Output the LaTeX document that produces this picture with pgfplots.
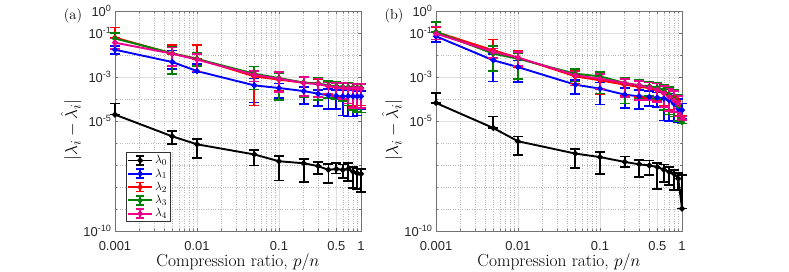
\documentclass[border=0pt]{standalone}
\usepackage{fontspec}
\usepackage{pgfplots}
\usepackage{pgfplotstable}
\pgfplotsset{compat=1.18}
\newfontfamily\tickfont{Liberation Sans}
\definecolor{mgreen}{rgb}{0,0.5,0}

\pgfplotstableread{
x y top bot
0.001 1.95e-5 6.17e-5 1.95e-5
0.005 2.00e-6 3.55e-6 8.71e-7
0.01 8.71e-7 1.51e-6 2.14e-7
0.05 3.02e-7 4.68e-7 9.55e-8
0.1 1.48e-7 2.57e-7 2.00e-8
0.2 1.20e-7 1.91e-7 1.66e-8
0.3 8.91e-8 1.41e-7 3.98e-8
0.4 6.03e-8 1.12e-7 1.48e-8
0.5 6.61e-8 1.20e-7 4.07e-8
0.6 6.03e-8 1.05e-7 2.63e-8
0.7 6.61e-8 1.20e-7 1.82e-8
0.8 5.01e-8 8.32e-8 9.12e-9
0.9 4.17e-8 6.92e-8 7.94e-9
1.0 3.98e-8 6.76e-8 5.89e-9
}\aBlack
\pgfplotstableread{
x y top bot
0.001 1.74e-2 2.51e-2 1.12e-2
0.005 4.79e-3 1.58e-2 2.24e-3
0.01 1.86e-3 3.98e-3 1.66e-3
0.05 4.17e-4 8.51e-4 6.92e-5
0.1 3.16e-4 5.01e-4 1.12e-4
0.2 2.29e-4 3.55e-4 6.03e-5
0.3 1.74e-4 2.51e-4 4.68e-5
0.4 1.48e-4 2.82e-4 3.63e-5
0.5 1.38e-4 2.51e-4 3.55e-5
0.6 1.32e-4 2.51e-4 1.78e-5
0.7 1.35e-4 2.51e-4 1.58e-5
0.8 1.32e-4 2.40e-4 1.58e-5
0.9 1.32e-4 2.24e-4 1.78e-5
1.0 1.32e-4 2.24e-4 3.55e-5
}\aBlue
\pgfplotstableread{
x y top bot
0.001 6.17e-2 1.78e-1 6.17e-2
0.005 1.15e-2 2.75e-2 1.15e-2
0.01 6.76e-3 2.95e-2 6.76e-3
0.05 1.07e-3 2.00e-3 5.01e-5
0.1 7.59e-4 1.58e-3 2.24e-4
0.2 5.50e-4 9.55e-4 1.41e-4
0.3 5.01e-4 8.32e-4 1.26e-4
0.4 3.98e-4 6.03e-4 1.58e-4
0.5 3.55e-4 5.62e-4 1.26e-4
0.6 3.31e-4 5.37e-4 1.00e-4
0.7 3.16e-4 5.25e-4 6.31e-5
0.8 3.16e-4 5.01e-4 4.47e-5
0.9 3.16e-4 5.01e-4 5.01e-5
1.0 3.02e-4 4.79e-4 5.01e-5
}\aRed
\pgfplotstableread{
x y top bot
0.001 5.62e-2 1.00e-1 2.00e-2
0.005 1.20e-2 2.24e-2 1.35e-3
0.01 6.61e-3 1.26e-2 3.16e-3
0.05 1.41e-3 3.02e-3 2.69e-4
0.1 8.91e-4 1.51e-3 8.71e-5
0.2 5.62e-4 1.05e-3 1.20e-4
0.3 5.01e-4 8.71e-4 8.71e-5
0.4 4.17e-4 6.61e-4 1.12e-4
0.5 3.80e-4 6.31e-4 1.00e-4
0.6 3.55e-4 5.62e-4 7.94e-5
0.7 3.47e-4 5.37e-4 5.01e-5
0.8 3.39e-4 5.01e-4 3.16e-5
0.9 3.31e-4 5.01e-4 2.51e-5
1.0 3.31e-4 5.01e-4 2.40e-5
}\aGreen
\pgfplotstableread{
x y top bot
0.001 3.63e-2 5.62e-2 1.91e-2
0.005 1.15e-2 2.19e-2 3.16e-3
0.01 6.17e-3 1.12e-2 1.78e-3
0.05 1.26e-3 1.91e-3 6.31e-4
0.1 8.32e-4 1.66e-3 2.09e-4
0.2 5.37e-4 1.00e-3 1.41e-4
0.3 4.79e-4 8.51e-4 1.26e-4
0.4 3.80e-4 5.62e-4 1.78e-4
0.5 3.39e-4 5.37e-4 1.41e-4
0.6 3.16e-4 5.25e-4 1.00e-4
0.7 3.02e-4 5.01e-4 6.31e-5
0.8 3.02e-4 5.01e-4 3.98e-5
0.9 2.95e-4 4.79e-4 3.98e-5
1.0 2.95e-4 4.68e-4 3.98e-5
}\aMag

\pgfplotstableread{
x y top bot
0.001 6.61e-5 1.86e-4 6.61e-5
0.005 4.79e-6 1.62e-5 4.79e-6
0.01 1.20e-6 2.00e-6 2.75e-7
0.05 3.31e-7 5.50e-7 7.24e-8
0.1 2.29e-7 3.89e-7 3.80e-8
0.2 1.38e-7 2.45e-7 8.13e-8
0.3 1.07e-7 1.74e-7 2.82e-8
0.4 9.55e-8 1.62e-7 3.39e-8
0.5 8.13e-8 1.23e-7 8.32e-9
0.6 6.17e-8 1.05e-7 1.70e-8
0.7 4.79e-8 8.13e-8 1.20e-8
0.8 4.07e-8 5.75e-8 7.08e-9
0.9 2.40e-8 4.37e-8 7.08e-9
1.0 1.05e-9 3.55e-8 1.05e-9
}\bBlack
\pgfplotstableread{
x y top bot
0.001 7.08e-2 1.12e-1 3.98e-2
0.005 5.75e-3 1.12e-2 6.31e-4
0.01 2.82e-3 5.62e-3 5.75e-4
0.05 4.47e-4 7.08e-4 1.70e-4
0.1 2.95e-4 5.62e-4 5.62e-5
0.2 1.58e-4 3.16e-4 3.98e-5
0.3 1.32e-4 2.51e-4 3.39e-5
0.4 1.23e-4 2.24e-4 4.68e-5
0.5 1.15e-4 2.00e-4 4.47e-5
0.6 1.05e-4 2.00e-4 1.07e-5
0.7 8.71e-5 1.78e-4 1.00e-5
0.8 6.17e-5 1.41e-4 1.00e-5
0.9 3.55e-5 1.00e-4 8.91e-6
1.0 3.16e-5 6.31e-5 1.26e-5
}\bBlue
\pgfplotstableread{
x y top bot
0.001 1.12e-1 1.91e-1 5.01e-2
0.005 1.62e-2 5.01e-2 1.62e-2
0.01 7.59e-3 1.51e-2 2.82e-3
0.05 1.07e-3 1.91e-3 5.01e-4
0.1 7.08e-4 1.51e-3 1.58e-4
0.2 4.47e-4 8.91e-4 1.41e-4
0.3 3.55e-4 7.08e-4 1.26e-4
0.4 3.16e-4 6.03e-4 1.12e-4
0.5 2.51e-4 5.01e-4 7.94e-5
0.6 1.91e-4 3.98e-4 5.01e-5
0.7 1.41e-4 3.16e-4 3.16e-5
0.8 1.12e-4 2.51e-4 2.51e-5
0.9 7.94e-5 1.58e-4 1.78e-5
1.0 1.41e-5 1.78e-5 1.12e-5
}\bRed
\pgfplotstableread{
x y top bot
0.001 1.12e-1 3.16e-1 1.12e-1
0.005 1.15e-2 2.51e-2 1.86e-3
0.01 6.76e-3 1.26e-2 8.32e-4
0.05 1.41e-3 2.24e-3 6.31e-4
0.1 1.07e-3 1.70e-3 1.78e-4
0.2 5.37e-4 9.33e-4 6.31e-5
0.3 4.17e-4 7.59e-4 1.00e-4
0.4 3.80e-4 6.31e-4 1.41e-4
0.5 3.31e-4 5.62e-4 1.00e-4
0.6 2.63e-4 4.47e-4 3.16e-5
0.7 1.58e-4 3.55e-4 2.00e-5
0.8 1.00e-4 2.63e-4 1.58e-5
0.9 5.01e-5 1.58e-4 1.00e-5
1.0 8.91e-6 1.12e-5 7.59e-6
}\bGreen
\pgfplotstableread{
x y top bot
0.001 9.33e-2 2.00e-1 5.01e-2
0.005 1.38e-2 2.00e-2 7.08e-3
0.01 7.59e-3 1.41e-2 3.16e-3
0.05 1.20e-3 1.78e-3 4.17e-4
0.1 8.32e-4 1.41e-3 2.82e-4
0.2 5.37e-4 8.32e-4 1.26e-4
0.3 4.17e-4 6.76e-4 8.71e-5
0.4 3.31e-4 5.62e-4 8.91e-5
0.5 2.63e-4 5.01e-4 7.08e-5
0.6 1.86e-4 3.80e-4 4.47e-5
0.7 1.23e-4 2.82e-4 2.82e-5
0.8 8.71e-5 2.24e-4 2.51e-5
0.9 6.17e-5 1.41e-4 1.58e-5
1.0 1.35e-5 1.58e-5 1.12e-5
}\bMag

\pgfplotsset{legend image code/.code={
      \draw[#1, mark=none] (0bp,0bp) -- (24bp,0bp);
      \draw[#1, mark=none] (12bp,-4.5bp) -- (12bp,4.5bp);
      \draw[#1, mark=none] (8bp,4.5bp) -- (16bp,4.5bp);
      \draw[#1, mark=none] (8bp,-4.5bp) -- (16bp,-4.5bp);
      \fill[#1, mark=none] (12bp,0bp) circle (1.8bp);
  }}
\pgfplotsset{
  every axis/.append style={
    xmin=0.001, xmax=1, ymin=1e-10, ymax=1,
    scale only axis, width=246bp, height=220bp,
    xtick={0.001,0.01,0.1,0.5,1}, xticklabels={0.001,0.01,0.1,0.5,1},
    minor xtick={0.002,0.003,0.004,0.005,0.006,0.007,0.008,0.009,0.02,0.03,0.04,0.05,0.06,0.07,0.08,0.09,0.2,0.3,0.4,0.6,0.7,0.8,0.9},
    ytick={1e-10,1e-5,1e-3,1e-1,1},
    yticklabels={10\textsuperscript{-10},10\textsuperscript{-5},10\textsuperscript{-3},10\textsuperscript{-1},10\textsuperscript{0}},
    minor ytick={1e-9,1e-8,1e-7,1e-6,1e-4,1e-2},
    grid=both,
    major grid style={black!13, line width=0.5bp},
    minor grid style={black!28, dotted, line width=0.5bp},
    tick align=inside, major tick length=3bp, minor tick length=1.8bp,
    axis line style={black!55, line width=0.6bp},
    tick style={black!55, line width=0.6bp},
    tick label style={font=\tickfont\fontsize{13}{13}\selectfont, text=black!85},
    xticklabel style={anchor=base, yshift=-19bp},
    xlabel={Compression ratio, $p/n$},
    xlabel style={at={(axis description cs:0.5,0)}, anchor=base, yshift=-35.5bp, font=\fontsize{17.5}{17.5}\selectfont},
    ylabel={$|\lambda_i-\hat{\lambda}_i|$},
    ylabel style={at={(axis description cs:-0.179,0.46)}, anchor=center, font=\fontsize{19}{19}\selectfont},
    clip=false,
  },
}
\newcommand{\ebplot}[2]{\addplot[color=#1, mark=*, mark size=1.9bp, line width=1.9bp, mark options={solid, fill=#1},
    error bars/.cd, y dir=both, y explicit,
    error bar style={line width=1.7bp, color=#1},
    error mark options={rotate=90, mark size=5bp, line width=1.7bp, color=#1}]
  table[x=x, y=y, y error plus expr=\thisrow{top}-\thisrow{y}, y error minus expr=\thisrow{y}-\thisrow{bot}] {#2};}

\begin{document}
\begin{tikzpicture}
\useasboundingbox (0,0) rectangle (789bp,272bp);
\begin{loglogaxis}[at={(115bp,41bp)}, anchor=south west,
  legend style={at={(axis description cs:0.0435,0.041)}, anchor=south west, draw=black!80, line width=0.6bp, font=\fontsize{13}{13}\selectfont, inner sep=1.2bp, row sep=-0.5bp},
  legend cell align=left]
\ebplot{black}{\aBlack}
\ebplot{blue}{\aBlue}
\ebplot{red}{\aRed}
\ebplot{mgreen}{\aGreen}
\ebplot{magenta}{\aMag}
\legend{$\lambda_0$,$\lambda_1$,$\lambda_2$,$\lambda_3$,$\lambda_4$}
\node[font=\fontsize{14.5}{14.5}\selectfont] at (rel axis cs:0,1) [xshift=-42bp, yshift=-5bp] {(a)};
\end{loglogaxis}
\begin{loglogaxis}[at={(436bp,41bp)}, anchor=south west]
\ebplot{black}{\bBlack}
\ebplot{blue}{\bBlue}
\ebplot{red}{\bRed}
\ebplot{mgreen}{\bGreen}
\ebplot{magenta}{\bMag}
\node[font=\fontsize{14.5}{14.5}\selectfont] at (rel axis cs:0,1) [xshift=-42bp, yshift=-5bp] {(b)};
\end{loglogaxis}
\end{tikzpicture}
\end{document}
